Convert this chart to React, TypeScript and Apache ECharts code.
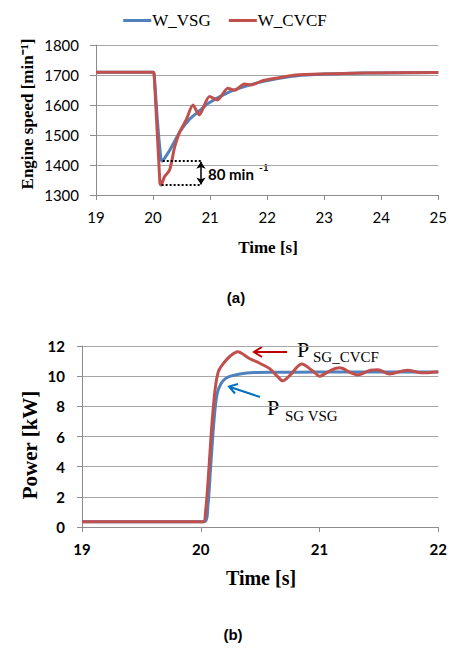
import React, { useEffect, useRef } from "react";
import * as echarts from "echarts";

// (a) Engine speed [min^-1] vs time [s]
const speedTimeVSG = [19, 20.0, 20.02, 20.08, 20.14, 20.16, 20.22, 20.3, 20.47, 20.64, 20.81, 20.99, 21.34, 21.63, 21.92, 22.21, 22.5, 23.0, 23.5, 24, 25];
const speedVSG = [1709, 1709, 1700, 1540, 1418, 1413, 1428, 1452, 1511, 1553, 1580, 1608, 1644, 1663, 1678, 1689, 1697, 1703, 1706, 1707, 1708];
const speedTimeCVCF = [19, 20.0, 20.02, 20.12, 20.14, 20.2, 20.29, 20.38, 20.47, 20.58, 20.7, 20.81, 20.99, 21.13, 21.31, 21.43, 21.6, 21.72, 21.92, 22.21, 22.5, 23.08, 23.66, 25];
const speedCVCF = [1709, 1709, 1700, 1340, 1333, 1361, 1383, 1461, 1511, 1550, 1600, 1567, 1628, 1617, 1656, 1649, 1670, 1667, 1681, 1691, 1700, 1704, 1707, 1708];

// (b) Power [kW] vs time [s]
const powerTimeVSG = [19, 20.03, 20.06, 20.08, 20.1, 20.12, 20.14, 20.17, 20.21, 20.25, 20.33, 20.45, 20.6, 21, 21.5, 22];
const powerVSG = [0.35, 0.35, 1.4, 3.6, 5.9, 7.8, 8.9, 9.5, 9.85, 10.0, 10.15, 10.24, 10.26, 10.27, 10.27, 10.28];
const powerTimeCVCF = [19, 20.02, 20.04, 20.064, 20.09, 20.12, 20.148, 20.19, 20.246, 20.31, 20.41, 20.5, 20.58, 20.65, 20.69, 20.75, 20.85, 20.95, 21.0, 21.1, 21.17, 21.27, 21.32, 21.43, 21.49, 21.59, 21.74, 21.86, 22];
const powerCVCF = [0.35, 0.35, 1.0, 3.33, 6.4, 9.07, 10.3, 10.84, 11.32, 11.62, 11.17, 10.84, 10.5, 9.95, 9.69, 10.05, 10.8, 10.3, 10.0, 10.4, 10.55, 10.2, 10.08, 10.4, 10.43, 10.15, 10.4, 10.22, 10.3];

const speedTicks = { min: 1300, max: 1800, interval: 100 };
const powerTicks = { min: 0, max: 12, interval: 2 };
const timeA = { min: 19, max: 25, interval: 1 };
const timeB = { min: 19, max: 22, interval: 1 };

const dropTop = 1413;
const dropBottom = 1333;

const zip = (xs: number[], ys: number[]) => xs.map((x, i) => [x, ys[i]]);

const BLUE = "#4F81BD";
const RED = "#C0504D";
const GRID = "#a6a6a6";
const AXIS = "#8c8c8c";
const SANS = "Lato, 'Liberation Sans', sans-serif";
const SERIF = "'Liberation Serif', 'Times New Roman', serif";

export default function App() {
  const ref = useRef<HTMLDivElement>(null);
  useEffect(() => {
    const chart = echarts.init(ref.current!, null, { renderer: "svg" });
    const axisCommon = {
      axisLine: { show: true, lineStyle: { color: AXIS, width: 1 } },
      axisTick: { show: true, inside: false, length: 5, lineStyle: { color: AXIS } },
      splitLine: { show: false },
    };
    const plain = (v: number) => String(v);
    const option: any = {
      animation: false,
      backgroundColor: "#fff",
      legend: {
        data: ["W_VSG", "W_CVCF"],
        top: 7,
        left: "center",
        icon: "rect",
        itemWidth: 28,
        itemHeight: 3,
        itemGap: 18,
        textStyle: { fontFamily: SERIF, fontSize: 17, color: "#000", padding: [0, 0, 0, -4] },
      },
      grid: [
        { left: 96, right: 10, top: 45, height: 150 },
        { left: 82, right: 11, top: 346, height: 181 },
      ],
      xAxis: [
        {
          type: "value", gridIndex: 0, ...timeA, ...axisCommon,
          axisLabel: { margin: 14, fontFamily: SANS, fontSize: 15, color: "#000", formatter: plain },
        },
        {
          type: "value", gridIndex: 1, ...timeB, ...axisCommon,
          axisLabel: { margin: 14, fontFamily: SANS, fontSize: 15, fontWeight: "bold", color: "#000", formatter: plain },
        },
      ],
      yAxis: [
        {
          type: "value", gridIndex: 0, ...speedTicks, ...axisCommon,
          axisTick: { show: true, length: 6, lineStyle: { color: AXIS } },
          splitLine: { show: true, lineStyle: { color: GRID, width: 1 } },
          axisLabel: { margin: 17, fontFamily: SANS, fontSize: 15, color: "#000", formatter: plain },
        },
        {
          type: "value", gridIndex: 1, ...powerTicks, ...axisCommon,
          axisTick: { show: true, length: 5, lineStyle: { color: AXIS } },
          splitLine: { show: true, lineStyle: { color: GRID, width: 1 } },
          axisLabel: { margin: 17, fontFamily: SANS, fontSize: 15, fontWeight: "bold", color: "#000", formatter: plain },
        },
      ],
      series: [
        {
          name: "W_VSG", type: "line", xAxisIndex: 0, yAxisIndex: 0,
          data: zip(speedTimeVSG, speedVSG), symbol: "none", smooth: 0.25,
          color: BLUE, lineStyle: { width: 3, color: BLUE },
        },
        {
          name: "W_CVCF", type: "line", xAxisIndex: 0, yAxisIndex: 0,
          data: zip(speedTimeCVCF, speedCVCF), symbol: "none", smooth: 0.25,
          color: RED, lineStyle: { width: 3, color: RED },
          markLine: {
            silent: true,
            symbol: ["none", "none"],
            label: { show: false },
            lineStyle: { color: "#000", type: [2, 2], width: 2 },
            emphasis: { disabled: true },
            data: [
              [{ coord: [20.17, dropTop] }, { coord: [20.85, dropTop] }],
              [{ coord: [20.15, dropBottom] }, { coord: [20.85, dropBottom] }],
              [
                { coord: [20.84, dropTop - 2], symbol: "arrow", symbolSize: [7, 7], lineStyle: { type: "solid", width: 1.5 } },
                { coord: [20.84, dropBottom + 2], symbol: "arrow", symbolSize: [7, 7] },
              ],
            ],
          },
        },
        {
          name: "P_SG_VSG", type: "line", xAxisIndex: 1, yAxisIndex: 1,
          data: zip(powerTimeVSG, powerVSG), symbol: "none", smooth: 0.25,
          color: BLUE, lineStyle: { width: 3, color: BLUE },
        },
        {
          name: "P_SG_CVCF", type: "line", xAxisIndex: 1, yAxisIndex: 1,
          data: zip(powerTimeCVCF, powerCVCF), symbol: "none", smooth: 0.3,
          color: RED, lineStyle: { width: 3, color: RED },
        },
      ],
      graphic: [
        // axis titles
        {
          type: "text", x: 27, y: 114, rotation: Math.PI / 2,
          style: { text: "Engine speed [min\u207B\u00B9]", font: `bold 17px ${SERIF}`, fill: "#000", textAlign: "center", textVerticalAlign: "middle" },
        },
        {
          type: "text", x: 268, y: 247,
          style: { text: "Time [s]", font: `bold 17px ${SERIF}`, fill: "#000", textAlign: "center", textVerticalAlign: "middle" },
        },
        {
          type: "text", x: 236, y: 297,
          style: { text: "(a)", font: "bold 15px 'Liberation Sans', sans-serif", fill: "#000", textAlign: "center", textVerticalAlign: "middle" },
        },
        {
          type: "text", x: 30, y: 445, rotation: Math.PI / 2,
          style: { text: "Power [kW]", font: `bold 21px ${SERIF}`, fill: "#000", textAlign: "center", textVerticalAlign: "middle" },
        },
        {
          type: "text", x: 261, y: 578,
          style: { text: "Time [s]", font: `bold 20px ${SERIF}`, fill: "#000", textAlign: "center", textVerticalAlign: "middle" },
        },
        {
          type: "text", x: 233, y: 634,
          style: { text: "(b)", font: "bold 15px 'Liberation Sans', sans-serif", fill: "#000", textAlign: "center", textVerticalAlign: "middle" },
        },
        // (a) annotation text
        {
          type: "text", x: 208, y: 174,
          style: { text: "80 min", font: `bold 15px ${SANS}`, fill: "#000", textAlign: "left", textVerticalAlign: "middle" },
        },
        {
          type: "text", x: 259, y: 167,
          style: { text: "-1", font: `bold 10px ${SANS}`, fill: "#000", textAlign: "left", textVerticalAlign: "middle" },
        },
        // (b) annotations
        {
          type: "line", shape: { x1: 287, y1: 352, x2: 255, y2: 352 },
          style: { stroke: "#C00000", lineWidth: 2 },
        },
        {
          type: "polyline", shape: { points: [[262, 347], [254, 352], [262, 357]] },
          style: { stroke: "#C00000", lineWidth: 2, fill: "none" },
        },
        {
          type: "text", x: 297, y: 349,
          style: { text: "P", font: `22px ${SERIF}`, fill: "#000", textAlign: "left", textVerticalAlign: "middle" },
        },
        {
          type: "text", x: 313, y: 357,
          style: { text: "SG_CVCF", font: `15px ${SERIF}`, fill: "#000", textAlign: "left", textVerticalAlign: "middle" },
        },
        {
          type: "line", shape: { x1: 260, y1: 397, x2: 230, y2: 387 },
          style: { stroke: "#0070C0", lineWidth: 2 },
        },
        {
          type: "polyline", shape: { points: [[238, 384], [229, 386.5], [235, 393.5]] },
          style: { stroke: "#0070C0", lineWidth: 2, fill: "none" },
        },
        {
          type: "text", x: 267, y: 407,
          style: { text: "P", font: `22px ${SERIF}`, fill: "#000", textAlign: "left", textVerticalAlign: "middle" },
        },
        {
          type: "text", x: 285, y: 416,
          style: { text: "SG VSG", font: `15px ${SERIF}`, fill: "#000", textAlign: "left", textVerticalAlign: "middle" },
        },
      ],
    };
    chart.setOption(option);
    return () => chart.dispose();
  }, []);
  return (
    <div
      ref={ref}
      style={{ position: "absolute", left: 0, top: 0, width: 450, height: 648, background: "#fff" }}
    />
  );
}
